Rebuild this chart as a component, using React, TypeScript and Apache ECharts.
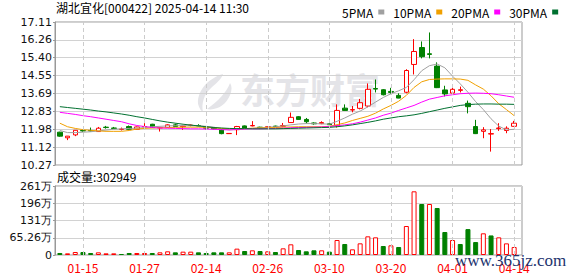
import React, { useEffect, useRef } from 'react';
import * as echarts from 'echarts';

const dates = ['01-10','01-13','01-14','01-15','01-16','01-17','01-20','01-21','01-22','01-23','01-24','01-27','02-05','02-06','02-07','02-10','02-11','02-12','02-13','02-14','02-17','02-18','02-19','02-20','02-21','02-24','02-25','02-26','02-27','02-28','03-03','03-04','03-05','03-06','03-07','03-10','03-11','03-12','03-13','03-14','03-17','03-18','03-19','03-20','03-21','03-24','03-25','03-26','03-27','03-28','03-31','04-01','04-02','04-03','04-07','04-08','04-09','04-10','04-11','04-14'];

const xTickLabels = ['01-15','01-27','02-14','02-26','03-10','03-20','04-01','04-14'];

// [open, close, low, high]
const candles = [
  [11.84,11.65,11.62,11.86],[11.57,11.65,11.46,11.66],[11.71,11.93,11.65,11.94],[11.92,11.90,11.86,11.97],
  [11.92,11.90,11.88,12.06],[11.87,12.03,11.86,12.09],[12.08,12.06,12.01,12.14],[12.04,12.02,11.99,12.09],
  [11.97,11.99,11.92,12.06],[12.11,11.98,11.97,12.16],[11.98,12.09,11.97,12.11],[12.09,12.11,12.05,12.27],
  [12.22,12.06,12.05,12.24],[12.04,12.06,11.87,12.08],[12.06,12.19,12.04,12.22],[12.19,12.11,12.09,12.25],
  [12.10,12.13,11.95,12.15],[12.16,12.18,12.12,12.20],[12.16,12.14,12.12,12.22],[12.07,12.03,11.97,12.09],
  [12.06,12.00,11.98,12.08],[11.95,11.77,11.74,11.97],[11.77,11.78,11.76,11.80],[11.96,12.11,11.70,12.14],
  [12.14,12.03,12.01,12.16],[12.14,12.16,12.12,12.37],[12.08,12.05,11.99,12.10],[12.08,12.10,12.05,12.12],
  [12.13,12.11,12.09,12.15],[12.12,12.16,12.08,12.28],[12.30,12.55,12.28,12.78],[12.58,12.45,12.43,12.61],
  [12.45,12.34,12.26,12.52],[12.28,12.24,12.20,12.31],[12.25,12.30,12.22,12.36],[12.24,12.20,12.18,12.26],
  [12.15,12.88,12.06,13.17],[12.99,12.88,12.86,13.17],[12.90,12.92,12.79,13.09],[12.98,13.25,12.93,13.43],
  [13.09,13.89,13.03,14.17],[13.93,13.90,13.74,14.36],[13.87,13.63,13.60,13.90],[13.79,13.74,13.66,13.96],
  [13.60,13.47,13.46,13.70],[13.75,14.79,13.70,14.85],[15.08,15.70,14.60,16.29],[15.89,15.45,15.37,16.18],
  [15.59,15.56,15.37,16.61],[15.00,13.97,13.95,15.18],[13.86,13.67,13.55,14.06],[13.71,13.89,13.69,14.03],
  [13.84,13.87,13.74,14.02],[13.22,13.06,12.74,13.35],[12.11,11.77,11.75,12.43],[11.88,11.95,11.55,12.08],
  [11.75,11.77,10.91,11.99],[12.01,12.04,11.90,12.27],[11.92,12.03,11.79,12.12],[12.12,12.27,12.10,12.38]
];

const ma5 = [11.92,11.82,11.82,11.84,11.86,11.90,11.94,11.98,12.00,12.02,12.03,12.06,12.10,12.12,12.14,12.15,12.15,12.15,12.14,12.12,12.08,12.00,11.95,11.97,12.00,12.02,12.05,12.08,12.10,12.14,12.19,12.23,12.25,12.25,12.24,12.22,12.36,12.52,12.70,12.85,13.05,13.28,13.50,13.68,13.82,13.98,14.35,14.78,15.02,15.10,14.92,14.52,14.15,13.75,13.30,12.92,12.48,12.13,11.95,11.98];
const ma10 = [12.27,12.10,12.02,11.96,11.93,11.90,11.88,11.88,11.88,11.92,11.99,12.02,12.04,12.05,12.06,12.07,12.08,12.08,12.08,12.07,12.05,12.02,12.00,12.00,12.01,12.03,12.04,12.05,12.06,12.08,12.09,12.10,12.10,12.10,12.10,12.12,12.20,12.28,12.40,12.50,12.60,12.75,12.95,13.12,13.32,13.60,13.98,14.25,14.36,14.38,14.39,14.39,14.38,14.32,14.10,13.90,13.58,13.20,12.92,12.63];
const ma20 = [12.79,12.74,12.69,12.63,12.58,12.52,12.46,12.40,12.34,12.24,12.16,12.11,12.06,12.04,12.03,12.02,12.01,12.00,12.00,11.99,11.98,11.96,11.95,11.97,11.99,12.00,12.00,12.01,12.02,12.03,12.05,12.06,12.07,12.08,12.09,12.11,12.15,12.19,12.24,12.32,12.42,12.52,12.65,12.75,12.88,13.00,13.12,13.28,13.42,13.50,13.58,13.63,13.68,13.70,13.71,13.70,13.68,13.63,13.57,13.51];
const ma30 = [13.06,13.02,12.98,12.94,12.90,12.85,12.81,12.76,12.71,12.65,12.58,12.52,12.45,12.38,12.32,12.27,12.22,12.18,12.14,12.10,12.06,12.04,12.02,12.01,12.01,12.00,12.00,12.00,12.00,12.01,12.02,12.03,12.04,12.05,12.06,12.07,12.10,12.14,12.19,12.25,12.31,12.38,12.46,12.52,12.58,12.62,12.67,12.74,12.82,12.90,12.98,13.05,13.12,13.16,13.18,13.19,13.19,13.18,13.18,13.17];

// volume in 万股 (10k)
const volumes = [7.6,6.3,11.3,11.3,7.6,10.1,6.3,6.3,3.8,7.6,7.6,7.6,7.6,10.1,13.9,10.1,12.6,12.6,10.1,7.6,10.1,10.1,10.1,24.0,15.1,17.7,15.1,13.9,11.3,25.2,40.4,18.9,13.9,17.7,17.7,12.6,56.7,41.6,21.4,44.1,70.6,66.8,34.0,36.6,30.3,109.7,240.9,193.0,193.0,177.8,87.0,56.7,41.6,98.0,49.0,82.0,74.0,66.8,44.0,30.2949];
// 1 = up (red hollow), 0 = down (green)
const volUp = [0,1,1,0,0,1,1,1,0,0,1,1,0,1,1,0,1,1,0,0,0,0,1,1,0,1,0,1,0,1,1,0,0,0,1,0,1,0,1,1,1,1,0,1,0,1,1,0,1,0,0,1,0,0,0,1,0,1,1,1];

const priceTickLabels = ['10.27','11.12','11.98','12.83','13.69','14.55','15.40','16.26','17.11'];
const volTickLabels = ['0','65.26万','131万','196万','261万'];

const maNames = ['5PMA','10PMA','20PMA','30PMA'];
const maColors = ['#a0a0a0','#f0a000','#ff00ff','#007030'];

const title = '湖北宜化[000422] 2025-04-14 11:30';

const PMIN = 10.27, PMAX = 17.11, PINT = 0.855;
const VMAX = 261.04, VINT = 65.26;

const UP = '#ff0000';
const DOWN = '#008000';

let registered = false;
function registerLogo() {
  if (registered) return;
  registered = true;
  const d = 'M28 0 C14 4 2 16 3 30 C4 34 6 37 8 38 C6 30 9 20 16 14 C20 10 26 6 28 0 Z M35 9 C31 19 23 27 12 35 C21 37 31 31 35 21 C37 16 37 12 35 9 Z';
  echarts.graphic.registerShape('logo', echarts.graphic.extendPath(d, {}));
}

export default function App() {
  const ref = useRef<HTMLDivElement>(null);
  useEffect(() => {
    if (!ref.current) return;
    registerLogo();
    const chart = echarts.init(ref.current, null, { renderer: 'svg' });
    const numFont = 'DejaVu Sans';
    const cjkFont = 'Noto Sans CJK SC';
    const dashLine = {
      silent: true,
      symbol: ['none', 'none'],
      label: { show: false },
      lineStyle: { color: '#cccccc', type: [4, 3], width: 1 },
      emphasis: { disabled: true },
      data: xTickLabels.map((d) => ({ xAxis: d })),
    };
    const option: any = {
      animation: false,
      backgroundColor: '#ffffff',
      legend: {
        data: maNames,
        left: 337,
        top: 1,
        align: 'right',
        icon: 'rect',
        itemWidth: 6,
        itemHeight: 5,
        itemGap: 9,
        selectedMode: false,
        textStyle: { fontSize: 12, fontFamily: cjkFont, color: '#000' },
      },
      grid: [
        { left: 55, top: 22, width: 467, height: 143, show: true, borderColor: '#999', borderWidth: 1, backgroundColor: 'transparent' },
        { left: 56, top: 22, width: 462, height: 143 },
        { left: 55, top: 186, width: 467, height: 69, show: true, borderColor: '#999', borderWidth: 1, backgroundColor: 'transparent' },
        { left: 56, top: 186, width: 462, height: 69 },
      ],
      xAxis: [
        { gridIndex: 0, type: 'value', min: 0, max: 1, show: false },
        { gridIndex: 1, type: 'category', data: dates, show: false },
        { gridIndex: 2, type: 'value', min: 0, max: 1, show: false },
        {
          gridIndex: 3, type: 'category', data: dates,
          axisLine: { show: false }, axisTick: { show: false }, splitLine: { show: false },
          axisLabel: {
            color: '#ff0000', fontFamily: cjkFont, fontSize: 12, margin: 6,
            interval: (_i: number, v: string) => xTickLabels.includes(v),
          },
        },
      ],
      yAxis: [
        {
          gridIndex: 0, type: 'value', min: PMIN, max: PMAX, interval: PINT,
          axisLine: { show: true, lineStyle: { color: '#999' } },
          axisTick: { show: true, length: 2, lineStyle: { color: '#999' } },
          splitLine: { show: true, lineStyle: { color: '#d2d2d2', width: 1 } },
          axisLabel: {
            color: '#111', fontFamily: numFont, fontSize: 11, margin: 3,
            formatter: (v: number) => priceTickLabels[Math.round((v - PMIN) / PINT)] ?? '',
          },
        },
        { gridIndex: 1, type: 'value', min: PMIN, max: PMAX, show: false },
        {
          gridIndex: 2, type: 'value', min: 0, max: VMAX, interval: VINT,
          axisLine: { show: true, lineStyle: { color: '#999' } },
          axisTick: { show: true, length: 2, lineStyle: { color: '#999' } },
          splitLine: { show: true, lineStyle: { color: '#d2d2d2', width: 1 } },
          axisLabel: {
            color: '#111', fontFamily: numFont, fontSize: 11, margin: 3,
            formatter: (v: number) => volTickLabels[Math.round(v / VINT)] ?? '',
          },
        },
        { gridIndex: 3, type: 'value', min: 0, max: VMAX, show: false },
      ],
      series: [
        {
          name: 'dash-main', type: 'line', xAxisIndex: 1, yAxisIndex: 1, data: [], z: 1, silent: true,
          markLine: dashLine,
        },
        {
          name: 'dash-vol', type: 'line', xAxisIndex: 3, yAxisIndex: 3, data: [], z: 1, silent: true,
          markLine: dashLine,
        },
        {
          name: 'K', type: 'candlestick', xAxisIndex: 1, yAxisIndex: 1, z: 3,
          barWidth: 5,
          data: candles,
          itemStyle: {
            color: '#ffffff', color0: DOWN, borderColor: UP, borderColor0: DOWN, borderWidth: 1,
          },
        },
        ...[ma5, ma10, ma20, ma30].map((arr, k) => ({
          name: maNames[k], type: 'line', xAxisIndex: 1, yAxisIndex: 1, z: 4,
          data: arr, symbol: 'none', showSymbol: false, smooth: false,
          lineStyle: { color: maColors[k], width: 1 }, itemStyle: { color: maColors[k] },
        })),
        {
          name: 'VOL', type: 'bar', xAxisIndex: 3, yAxisIndex: 3, z: 3, barWidth: 5,
          data: volumes.map((v, i) => ({
            value: v,
            itemStyle: volUp[i]
              ? { color: '#ffffff', borderColor: UP, borderWidth: 1 }
              : { color: DOWN, borderColor: DOWN, borderWidth: 1 },
          })),
        },
      ],
      graphic: [
        { type: 'logo', left: 198, top: 74, z: 0, silent: true, style: { fill: '#e4e4e8' } },
        { type: 'text', left: 240, top: 71, z: 0, silent: true, style: { text: '东方财富', font: 'bold 35px "Noto Sans CJK SC"', fill: '#e4e4e8' } },
        { type: 'text', left: 56, top: 1, style: { text: title, font: '12px "Noto Sans CJK SC"', fill: '#000' } },
        { type: 'text', left: 57, top: 170, style: { text: '成交量:' + Math.round(volumes[volumes.length - 1] * 10000), font: '12px "Noto Sans CJK SC"', fill: '#000' } },
        { type: 'text', left: 455, top: 252, z: 100, style: { text: 'www.365jz.com', font: '17px "Liberation Serif"', fill: '#22336e' } },
      ],
    };
    chart.setOption(option);
    return () => chart.dispose();
  }, []);
  return <div ref={ref} style={{ position: 'fixed', left: 0, top: 0, width: 578, height: 276, background: '#fff' }} />;
}
